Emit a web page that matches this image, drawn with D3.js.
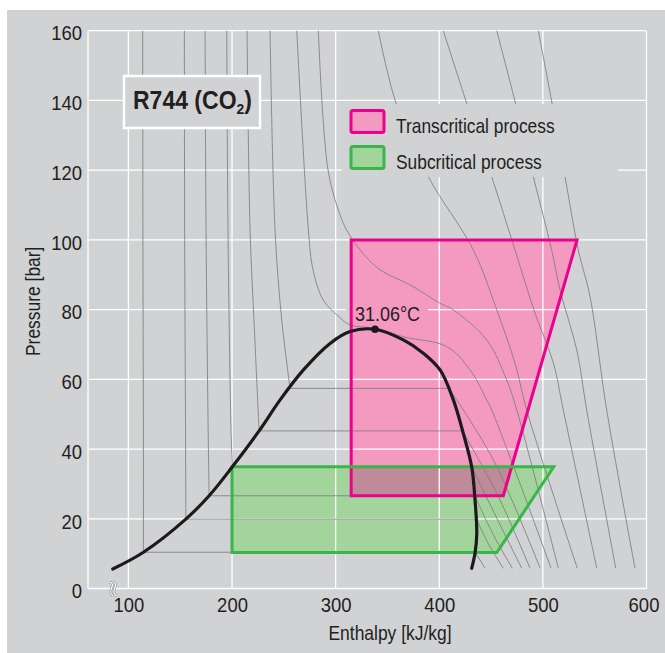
<!DOCTYPE html>
<html><head><meta charset="utf-8">
<script src="https://cdn.jsdelivr.net/npm/d3@7"></script>
<style>
html,body{margin:0;padding:0;background:#fff;}
svg{display:block;}
text{font-family:"Liberation Sans",Arial,sans-serif;fill:#231f20;}
</style></head><body>
<svg id="c" width="665" height="653"></svg>
<script>
// ---- data ----
const enthalpyTicks=[100,200,300,400,500,600];
const pressureTicks=[0,20,40,60,80,100,120,140,160];
const domeCurve=[[84.9,5.6],[114.5,10.4],[155.4,19.9],[177.9,26.6],[200.3,34.9],[226.1,45.2],[246.4,54.1],[268.9,62.7],[294.6,70.3],[313.9,73.7],[338,74.36],[365.3,71.3],[384.6,67.5],[400.8,62.7],[413.6,54.1],[423.2,44.5],[431.3,34.9],[434.5,25.4],[436.2,15.8],[434.5,10.1],[431.3,5.8]];
const criticalPoint=[338,74.36];
const criticalLabel="31.06°C";
const transcritical=[[315,100],[533,100],[461.8,26.6],[315,26.6]];
const subcritical=[[200,34.9],[510.5,34.9],[455.5,10.3],[200,10.3]];
const legendLabels=["Transcritical process","Subcritical process"];
// isotherms: each is a list of segments [[h,p],...]
const isoM40=[[[113.8,160],[114.0,100],[114.5,40],[114.5,10.4]],[[114.5,10.4],[434.6,10.4]],[[434.6,10.4],[444.2,5.8]]];
const isoM20=[[[154.0,160],[154.3,100],[155.2,40],[155.4,19.9]],[[155.4,19.9],[435.8,19.9]],[[435.8,19.9],[448,12.5],[461.8,5.8]]];
const isoM10=[[[174.0,160],[175.0,100],[177.2,40],[177.9,26.6]],[[177.9,26.6],[434.3,26.6]],[[434.3,26.6],[452,15.5],[470.5,5.8]]];
const iso0=[[[194.9,160],[196.2,100],[199.1,45],[200.3,34.9]],[[200.3,34.9],[431.3,34.9]],[[431.3,34.9],[455,20.5],[479.6,5.8]]];
const iso10=[[[214.5,160],[217.4,102.8],[221.5,75],[226.1,45.2]],[[226.1,45.2],[422.5,45.2]],[[422.5,45.2],[456,27],[487.6,5.8]]];
const iso20=[[[236.7,160],[241.5,102.8],[248.0,77],[256.0,57.4]],[[256,57.4],[409.4,57.4]],[[409.4,57.4],[452,37],[497.3,5.8]]];
const iso31=[[[262.5,160],[273.7,102.8],[278.2,91.4],[287.9,82.8],[301.1,78.5],[313.9,75.6],[339.7,74.6],[365.3,72.2],[407.2,69.4],[429.7,62.7],[445.8,54.1],[450.6,51.2],[478,30],[507.9,5.8]]];
const iso40=[[[283.3,160],[292.7,120],[304.3,107.1],[310.7,102.8],[323.6,97.1],[342.9,91.4],[371.8,87.1],[400.8,81.8],[413.6,79.9],[445.8,71.3],[465.1,59.8],[474.8,51.2],[514.9,5.8]]];
const iso60=[[[341.2,160],[358.3,139.2],[389.5,118.1],[432.9,97.1],[455.5,79.9],[473.1,64.6],[484.4,51.2],[533.2,5.8]]];
const iso80=[[[403.9,160],[426.5,139.2],[450.6,118.1],[473.1,97.1],[492.4,79.0],[510.1,64.7],[519.7,51.2],[552.0,5.8]]];
const iso100=[[[455.5,160],[473.1,139.7],[490.8,118.1],[508.5,97.1],[516.6,85.6],[532.7,68.4],[542.3,51.2],[570.3,5.8]]];
const iso120=[[[495.6,160],[508.5,139.7],[521.4,118.1],[534.2,97.1],[545.5,83.7],[561.6,51.2],[588.9,5.8]]];
const isotherms=[isoM40,isoM20,isoM10,iso0,iso10,iso20,iso31,iso40,iso60,iso80,iso100,iso120];

// ---- drawing ----
const W=665,H=653;
const svg=d3.select('#c');
const x=d3.scaleLinear().domain([61,600]).range([88,646.5]);
const y=d3.scaleLinear().domain([0,160]).range([588.5,30.7]);
const curve=d3.line().x(d=>x(d[0])).y(d=>y(d[1])).curve(d3.curveCatmullRom.alpha(0.5));
const lin=d3.line().x(d=>x(d[0])).y(d=>y(d[1]));

function condense(sel,f){
  sel.each(function(){
    const len=this.getComputedTextLength();
    d3.select(this).attr('textLength',(len*f).toFixed(2)).attr('lengthAdjust','spacingAndGlyphs');
  });
  return sel;
}

const legendBox={x:342,y:104,w:276,h:73};
const labelBox={x:346,y:300,w:82,h:18};

const defs=svg.append('defs');
function mk(id,rects){
  const m=defs.append('mask').attr('id',id).attr('maskUnits','userSpaceOnUse')
    .attr('x',0).attr('y',0).attr('width',W).attr('height',H);
  m.append('rect').attr('width',W).attr('height',H).attr('fill','#fff');
  rects.forEach(r=>m.append('rect').attr('x',r.x).attr('y',r.y).attr('width',r.w).attr('height',r.h).attr('fill','#000'));
}
mk('mGrid',[legendBox,labelBox]);
mk('mIso',[legendBox]);
defs.append('clipPath').attr('id','pinkClip').append('path').attr('d',lin(transcritical)+'Z');

svg.append('rect').attr('x',7).attr('y',10).attr('width',W-7).attr('height',H-10).attr('fill','#d1d2d4');

// fills
svg.append('path').attr('d',lin(transcritical)+'Z').attr('fill','#f49ac1');
svg.append('path').attr('d',lin(subcritical)+'Z').attr('fill','#a2d49c');
svg.append('path').attr('d',lin(subcritical)+'Z').attr('fill','#bf8a99').attr('clip-path','url(#pinkClip)');

// grid
const g=svg.append('g').attr('mask','url(#mGrid)').attr('stroke','#fff').attr('stroke-width',1.3);
const xd=x.domain(), yd=y.domain();
[xd[0],...enthalpyTicks].forEach(v=>g.append('line').attr('x1',x(v)).attr('x2',x(v)).attr('y1',y(yd[0])).attr('y2',y(yd[1])));
pressureTicks.forEach(v=>g.append('line').attr('x1',x(xd[0])).attr('x2',x(xd[1])).attr('y1',y(v)).attr('y2',y(v)));

// isotherms
const gi=svg.append('g').attr('mask','url(#mIso)').attr('fill','none').attr('stroke','#7d7d7f').attr('stroke-width',0.85);
isotherms.forEach(iso=>iso.forEach(seg=>gi.append('path').attr('d',seg.length>2?curve(seg):lin(seg))));

// outlines
svg.append('path').attr('d',lin(transcritical)+'Z').attr('fill','none').attr('stroke','#ec008c').attr('stroke-width',3).attr('stroke-linejoin','miter');
svg.append('path').attr('d',lin(subcritical)+'Z').attr('fill','none').attr('stroke','#39b54a').attr('stroke-width',3).attr('stroke-linejoin','miter');

// dome
svg.append('path').attr('d',curve(domeCurve)).attr('fill','none').attr('stroke','#1d1a1b').attr('stroke-width',3.2).attr('stroke-linecap','round');
svg.append('circle').attr('cx',x(criticalPoint[0])).attr('cy',y(criticalPoint[1])).attr('r',3.8).attr('fill','#1d1a1b');
condense(svg.append('text').attr('x',355).attr('y',321).attr('font-size',21).text(criticalLabel),0.855);

// title box
svg.append('rect').attr('x',124).attr('y',76).attr('width',136).attr('height',52).attr('fill','#d1d2d4').attr('stroke','#fff').attr('stroke-width',2.5);
const tt=svg.append('text').attr('transform','translate(133,108.5) scale(0.92,1)').attr('font-size',25).attr('font-weight','bold');
tt.append('tspan').text('R744 (CO');
tt.append('tspan').attr('font-size',15).attr('dy',5).text('2');
tt.append('tspan').attr('dy',-5).text(')');

// legend
const lg=[{t:legendLabels[0],fill:'#f49ac1',stroke:'#ec008c',y:110},{t:legendLabels[1],fill:'#a2d49c',stroke:'#39b54a',y:146}];
lg.forEach(d=>{
  svg.append('rect').attr('x',351).attr('y',d.y+0.5).attr('width',33).attr('height',22).attr('rx',2).attr('fill',d.fill).attr('stroke',d.stroke).attr('stroke-width',3);
  condense(svg.append('text').attr('x',396).attr('y',d.y+22.5).attr('font-size',21).text(d.t),0.827);
});

// axes
const ax=svg.append('g').attr('transform',`translate(${x(xd[0])},0)`).call(d3.axisLeft(y).tickValues(pressureTicks).tickSize(0).tickPadding(6).tickFormat(d3.format('d')));
const bx=svg.append('g').attr('transform',`translate(0,${y(0)})`).call(d3.axisBottom(x).tickValues(enthalpyTicks).tickSize(0).tickPadding(9).tickFormat(d3.format('d')));
[ax,bx].forEach(a=>{a.select('.domain').remove();a.selectAll('text').attr('font-size',21).attr('font-family',null).attr('fill','#231f20');condense(a.selectAll('text'),0.88);});
ax.selectAll('text').attr('dy','0.44em');
bx.selectAll('.tick').filter(d=>d===600).select('text').attr('dx',-3);

condense(svg.append('text').attr('x',390).attr('y',640).attr('text-anchor','middle').attr('font-size',21).text('Enthalpy [kJ/kg]'),0.83);
condense(svg.append('text').attr('transform','translate(40,301.3) rotate(-90)').attr('text-anchor','middle').attr('font-size',21).text('Pressure [bar]'),0.83);

// axis break mark
const brk=svg.append('g').attr('fill','none');
[0,3.2].forEach(o=>{
  const d=`M${110+o},582 C${117+o},585 ${106+o},591 ${113+o},596`;
  brk.append('path').attr('d',d).attr('stroke','#8a8a8c').attr('stroke-width',2.6);
  brk.append('path').attr('d',d).attr('stroke','#fff').attr('stroke-width',1.3);
});
</script></body></html>
